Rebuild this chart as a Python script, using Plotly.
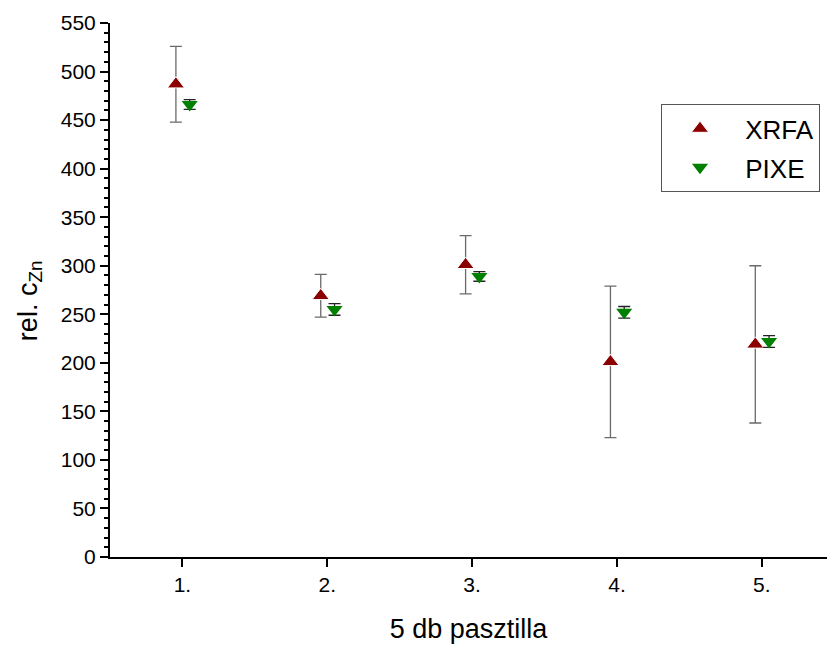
import plotly.graph_objects as go

categories = ["1.", "2.", "3.", "4.", "5."]
positions = [1, 2, 3, 4, 5]
xrfa_values = [487, 269, 301, 201, 219]
xrfa_errors = [39, 22, 30, 78, 81]
pixe_values = [466, 255, 289, 252, 222]
pixe_errors = [5, 6, 5, 6, 6]

XRFA_OFF = -0.045
PIXE_OFF = 0.05

FONT = "Liberation Sans, Arial, sans-serif"
NB = "\u00a0"

fig = go.Figure()
fig.add_trace(go.Scatter(
    x=[p + XRFA_OFF for p in positions], y=xrfa_values, mode="markers",
    name=NB + "XRFA", legendgroup="a",
    marker=dict(symbol="triangle-up", size=15, color="#8B0000",
                line=dict(color="white", width=1)),
    error_y=dict(type="data", array=xrfa_errors, visible=True,
                 color="#6a6a6a", thickness=1.3, width=6),
))
fig.add_trace(go.Scatter(
    x=[p + PIXE_OFF for p in positions], y=pixe_values, mode="markers",
    name=NB + "PIXE", legendgroup="b",
    marker=dict(symbol="triangle-down", size=14, color="#008000"),
    error_y=dict(type="data", array=pixe_errors, visible=True,
                 color="#222222", thickness=1.3, width=6),
))

fig.update_layout(
    width=827, height=645, autosize=False,
    margin=dict(l=110, r=0, t=23, b=88, autoexpand=False),
    paper_bgcolor="white", plot_bgcolor="white",
    font=dict(family=FONT, color="black"),
    showlegend=True,
    legend=dict(x=0.7685, y=0.848, xanchor="left", yanchor="top",
                bordercolor="#555555", borderwidth=1, bgcolor="white",
                font=dict(size=26, family=FONT), tracegroupgap=2,
                traceorder="grouped", itemwidth=66),
    annotations=[dict(
        text="rel. c<sub>Zn</sub>", textangle=-90, showarrow=False,
        xref="paper", yref="paper", x=-0.1116, y=0.481,
        xanchor="center", yanchor="middle",
        font=dict(size=27, family=FONT),
    )],
)
fig.update_xaxes(
    range=[0.5, 5.45], tickmode="array", tickvals=positions, ticktext=categories,
    showline=True, linecolor="black", linewidth=2, ticks="outside", ticklen=8,
    tickwidth=2, tickcolor="black", showgrid=False, zeroline=False,
    tickfont=dict(size=21, family=FONT),
    title=dict(text="5 db pasztilla", font=dict(size=27, family=FONT), standoff=24),
)
fig.update_yaxes(
    range=[0, 550], tickmode="linear", tick0=0, dtick=50,
    showline=True, linecolor="black", linewidth=2, ticks="outside", ticklen=8,
    tickwidth=2, tickcolor="black", showgrid=False, zeroline=False,
    tickfont=dict(size=21, family=FONT),
    minor=dict(ticks="outside", ticklen=4, tickwidth=2, tickcolor="black", dtick=10),
)

fig.write_html("out.html")
